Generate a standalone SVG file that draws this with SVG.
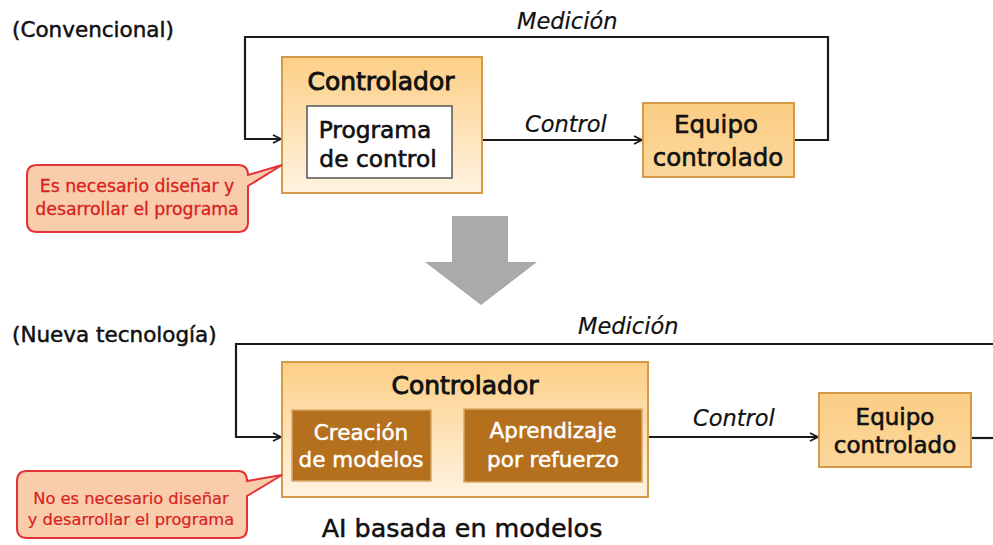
<svg xmlns="http://www.w3.org/2000/svg" width="993" height="545" viewBox="0 0 993 545">
<defs>
  <linearGradient id="ctrlGrad" x1="0" y1="0" x2="0" y2="1">
    <stop offset="0" stop-color="#fccf86"/>
    <stop offset="1" stop-color="#fff3e2"/>
  </linearGradient>
  <linearGradient id="eqGrad" x1="0" y1="0" x2="0" y2="1">
    <stop offset="0" stop-color="#fbcd84"/>
    <stop offset="1" stop-color="#fcd79c"/>
  </linearGradient>
  <marker id="arr" viewBox="0 0 10 10" refX="9" refY="5" markerWidth="10" markerHeight="10" markerUnits="userSpaceOnUse" orient="auto">
    <path d="M1,1 L9,5 L1,9" fill="none" stroke="#1a1a1a" stroke-width="1.8"/>
  </marker>
  <marker id="arrO" viewBox="0 0 10 10" refX="9" refY="5" markerWidth="10" markerHeight="10" markerUnits="userSpaceOnUse" orient="auto">
    <path d="M1,1 L9,5 L1,9" fill="none" stroke="#c98a3a" stroke-width="1.8"/>
  </marker>
</defs>
<style>
  text { font-family: "DejaVu Sans", "Noto Sans", sans-serif; }
  .hdr { font-size: 21.5px; fill: #111; stroke: #111; stroke-width: 0.5px; }
  .lbl { font-size: 22.5px; font-style: italic; fill: #111; stroke: #111; stroke-width: 0.2px; }
  .ctrl { fill: url(#ctrlGrad); stroke: #d49a48; stroke-width: 2; }
  .eq { fill: url(#eqGrad); stroke: #d49a48; stroke-width: 2; }
  .title { font-size: 25px; fill: #111; stroke: #111; stroke-width: 0.9px; text-anchor: middle; }
  .node { font-size: 23.3px; fill: #111; stroke: #111; stroke-width: 0.6px; text-anchor: middle; }
  .brown { fill: #b5701d; stroke: #d9a767; stroke-width: 1.5; }
  .wt { font-size: 21.5px; fill: #fff; stroke: #fff; stroke-width: 0.5px; text-anchor: middle; }
  .call { fill: #f9cdab; stroke: #e2333a; stroke-width: 2; }
  .ct { font-size: 17.3px; fill: #d81e1e; stroke: #d81e1e; stroke-width: 0.3px; text-anchor: middle; }
  .ct2 { font-size: 16.3px; fill: #d81e1e; stroke: #d81e1e; stroke-width: 0.2px; text-anchor: middle; }
  .line { fill: none; stroke: #1a1a1a; stroke-width: 2.2; }
</style>
<rect width="993" height="545" fill="#ffffff"/>

<text class="hdr" x="12" y="37">(Convencional)</text>
<text class="hdr" x="12" y="342">(Nueva tecnología)</text>

<g id="connectors">
  <polyline class="line" points="794,140 828,140 828,37 245,37 245,139 281,139" marker-end="url(#arr)"/>
  <line class="line" x1="482" y1="140" x2="642" y2="140" marker-end="url(#arr)"/>
  <text class="lbl" x="517" y="29">Medición</text>
  <text class="lbl" x="525" y="132">Control</text>
  <polyline class="line" points="993,344 236,344 236,437 281,437" marker-end="url(#arr)"/>
  <line class="line" x1="971" y1="438" x2="993" y2="438"/>
  <line class="line" x1="648" y1="437" x2="818" y2="437" marker-end="url(#arr)"/>
  <text class="lbl" x="578" y="334">Medición</text>
  <text class="lbl" x="693" y="426">Control</text>
  <line x1="431" y1="437" x2="462" y2="437" stroke="#c98a3a" stroke-width="2" marker-end="url(#arrO)"/>
</g>

<g id="controlador-top">
  <rect class="ctrl" x="282" y="57" width="200" height="136"/>
  <text class="title" x="381" y="90">Controlador</text>
</g>
<g id="programa">
  <rect x="307" y="106" width="145" height="72" fill="#ffffff" stroke="#555" stroke-width="1.5"/>
  <text class="node" x="375" y="138">Programa</text>
  <text class="node" x="378" y="167">de control</text>
</g>
<g id="equipo-top">
  <rect class="eq" x="643" y="103" width="151" height="74"/>
  <text class="node" x="716" y="133" style="font-size:24.5px">Equipo</text>
  <text class="node" x="718" y="166" style="font-size:24.5px">controlado</text>
</g>
<g id="callout-top">
  <path class="call" d="M37,165 H238 Q248,165 248,175 L282,165 L248,186 V222 Q248,232 238,232 H37 Q27,232 27,222 V175 Q27,165 37,165 Z"/>
  <text class="ct" x="137" y="192">Es necesario diseñar y</text>
  <text class="ct" x="137" y="215">desarrollar el programa</text>
</g>

<g id="big-arrow">
  <polygon points="452,216 508,216 508,262 537,262 481,305 425,262 452,262" fill="#aaaaaa"/>
</g>

<g id="controlador-bottom">
  <rect class="ctrl" x="282" y="362" width="366" height="135"/>
  <text class="title" x="465" y="394">Controlador</text>
</g>
<g id="creacion">
  <rect class="brown" x="292" y="410" width="139" height="71"/>
  <text class="wt" x="361" y="440">Creación</text>
  <text class="wt" x="361" y="467">de modelos</text>
</g>
<g id="aprendizaje">
  <rect class="brown" x="464" y="409" width="178" height="73"/>
  <text class="wt" x="553" y="438">Aprendizaje</text>
  <text class="wt" x="553" y="467">por refuerzo</text>
</g>
<g id="equipo-bottom">
  <rect class="eq" x="819" y="393" width="152" height="74"/>
  <text class="node" x="895" y="425" style="font-size:23px">Equipo</text>
  <text class="node" x="895" y="453" style="font-size:23px">controlado</text>
</g>
<g id="callout-bottom">
  <path class="call" d="M27,471 H238 Q247,471 247,481 L282,475 L247,496 V528 Q247,538 238,538 H27 Q17,538 17,528 V481 Q17,471 27,471 Z"/>
  <text class="ct2" x="131" y="504">No es necesario diseñar</text>
  <text class="ct2" x="131" y="525">y desarrollar el programa</text>
</g>
<text x="462" y="537" font-size="25.4" fill="#111" stroke="#111" stroke-width="0.5" text-anchor="middle">AI basada en modelos</text>
</svg>
